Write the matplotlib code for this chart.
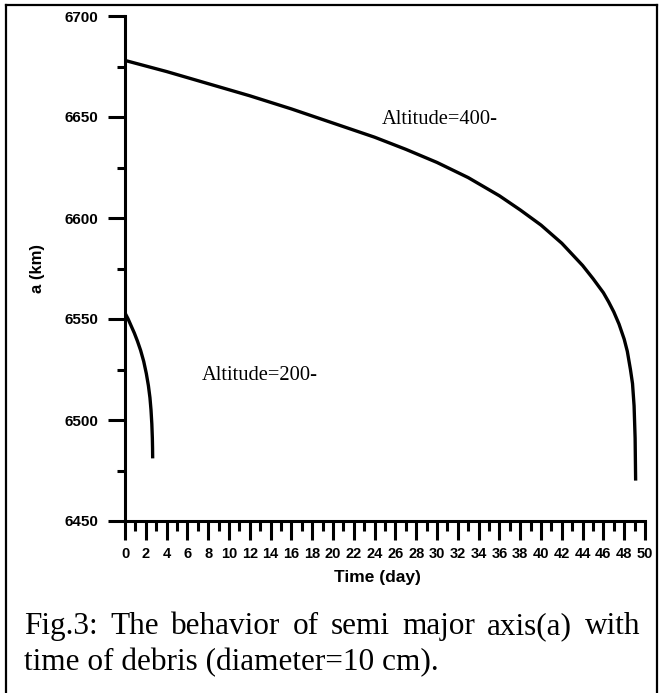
import matplotlib
matplotlib.use("Agg")
import matplotlib.pyplot as plt
from matplotlib.lines import Line2D
from matplotlib.ticker import MultipleLocator

# Semi-major axis decay of a 10 cm debris object, two initial altitudes
t_400 = [0, 4, 8, 12, 16, 20, 24, 27, 30, 33, 36, 38, 40, 42, 43, 44, 45,
         46, 46.5, 47, 47.5, 48, 48.3, 48.6, 48.8, 48.95, 49.05, 49.1]
a_400 = [6678, 6672.5, 6666.5, 6660.5, 6654, 6647, 6640, 6634, 6627.5,
         6620, 6611, 6604, 6596.5, 6587.5, 6582, 6576.5, 6570, 6563,
         6558.5, 6553.5, 6547.5, 6540, 6534, 6525, 6518, 6507, 6491, 6470]

t_200 = [0, 0.3, 0.6, 0.9, 1.2, 1.5, 1.8, 2.05, 2.25, 2.4, 2.5, 2.58,
         2.63, 2.65, 2.66]
a_200 = [6553, 6550, 6546.5, 6543, 6539, 6534.5, 6529, 6523, 6517, 6511,
         6505, 6498, 6491, 6486, 6481]

label_400 = "Altitude=400-"
label_200 = "Altitude=200-"
x_label = "Time (day)"
y_label = "a (km)"
caption_1 = "Fig.3: The behavior of semi major axis(a) with"
caption_2 = "time of debris (diameter=10 cm)."

W, H = 660, 693
fig = plt.figure(figsize=(W / 100, H / 100), dpi=100)
ax = fig.add_axes([125 / W, 1 - 521 / H, 520 / W, 505 / H])

ax.plot(t_400, a_400, color="black", lw=2.4, solid_capstyle="butt",
        solid_joinstyle="round")
ax.plot(t_200, a_200, color="black", lw=2.4, solid_capstyle="butt",
        solid_joinstyle="round")

ax.set_xlim(0, 50)
ax.set_ylim(6450, 6700)
for side in ("top", "right"):
    ax.spines[side].set_visible(False)
for side in ("left", "bottom"):
    ax.spines[side].set_linewidth(2.2)

ax.xaxis.set_major_locator(MultipleLocator(2))
ax.xaxis.set_minor_locator(MultipleLocator(1))
ax.yaxis.set_major_locator(MultipleLocator(50))
ax.yaxis.set_minor_locator(MultipleLocator(25))

bold_sans = dict(family="Liberation Sans", weight="bold")
ax.tick_params(axis="y", which="major", direction="out", length=12.5,
               width=2.2, pad=7, labelsize=11)
ax.tick_params(axis="y", which="minor", direction="out", length=6, width=2.2)
ax.tick_params(axis="x", which="major", direction="out", length=14,
               width=2.2, pad=5, labelsize=10.5)
ax.tick_params(axis="x", which="minor", direction="out", length=7, width=2.2)
for lab in ax.get_xticklabels() + ax.get_yticklabels():
    lab.set_fontfamily("Liberation Sans")
    lab.set_fontweight("bold")

ax.set_xlabel(x_label, fontsize=12.5, **bold_sans)
ax.xaxis.set_label_coords(0.485, -0.098)
ax.set_ylabel(y_label, fontsize=12, labelpad=14, **bold_sans)

serif = dict(family="Liberation Serif")
ax.text(24.7, 6646.5, label_400, fontsize=14.8, va="baseline", ha="left", **serif)
ax.text(7.4, 6519.8, label_200, fontsize=14.8, va="baseline", ha="left", **serif)

# Page frame around the figure
frame = dict(color="black", lw=1.6, transform=fig.transFigure)
fig.add_artist(Line2D([6 / W, 6 / W], [0, 1 - 5 / H], **frame))
fig.add_artist(Line2D([6 / W, 657 / W], [1 - 5 / H, 1 - 5 / H], **frame))
fig.add_artist(Line2D([657 / W, 657 / W], [0, 1 - 5 / H], **frame))

# Caption: first line justified between the margins, second line ragged
cap_size = 22.5
x_left, x_right = 24, 640
renderer = fig.canvas.get_renderer()
words = caption_1.split(" ")
items = [fig.text(0, 1 - 634 / H, w, fontsize=cap_size, va="baseline",
                  ha="left", **serif) for w in words]
widths = [it.get_window_extent(renderer).width for it in items]
gap = (x_right - x_left - sum(widths)) / (len(words) - 1)
x = x_left
for it, w in zip(items, widths):
    it.set_x(x / W)
    x += w + gap
fig.text(x_left / W, 1 - 670 / H, caption_2, fontsize=cap_size,
         va="baseline", ha="left", **serif)

fig.savefig("out.png", dpi=100)
